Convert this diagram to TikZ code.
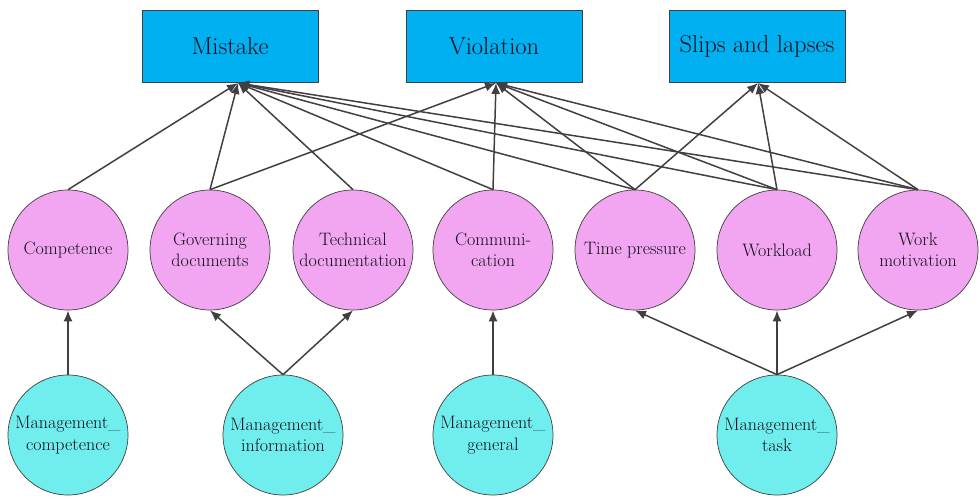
\documentclass[tikz,border=0pt]{standalone}
\usepackage{fontspec}
\usetikzlibrary{arrows.meta}
\definecolor{boxblue}{HTML}{00B0F0}
\definecolor{factorpink}{HTML}{F2A6F2}
\definecolor{mgmtcyan}{HTML}{70EEEE}
\definecolor{edgegray}{HTML}{404040}
\definecolor{inktext}{HTML}{10101C}
\tikzset{
  outcome/.style={draw=edgegray, line width=1pt, fill=boxblue, minimum width=176pt,
    minimum height=72pt, inner sep=0pt, text=inktext, font=\fontsize{24.5}{28}\selectfont},
  factor/.style={circle, draw=edgegray, line width=0.7pt, fill=factorpink, minimum size=120pt,
    inner sep=0pt, align=center, text=inktext, font=\fontsize{18}{21.5}\selectfont},
  mgmt/.style={factor, fill=mgmtcyan},
  link/.style={draw=edgegray, line width=1.5pt, -{Latex[length=11pt,width=9pt]}},
}
\begin{document}
\begin{tikzpicture}[x=1pt, y=-1pt]
\useasboundingbox (0,0) rectangle (980,499);
% outcomes
\node[outcome] (mis) at (230,46.5) {Mistake};
\node[outcome] (vio) at (494,46.5) {Violation};
\node[outcome] (sl) at (757,46.5) {Slips and lapses};
% contributing factors
\node[factor] (comp) at (68,250) {Competence};
\node[factor] (gov) at (210,250) {Governing\\documents};
\node[factor] (tech) at (353,250) {Technical\\documentation};
\node[factor] (comm) at (493,250) {Communi-\\cation};
\node[factor] (time) at (635,250) {Time pressure};
\node[factor] (work) at (777,250) {Workload};
\node[factor] (mot) at (918,250) {Work\\motivation};
% management nodes
\node[mgmt] (mcomp) at (68,435) {Management\_\\competence};
\node[mgmt] (minfo) at (283,435) {Management\_\\information};
\node[mgmt] (mgen) at (493,435) {Management\_\\general};
\node[mgmt] (mtask) at (777,435) {Management\_\\task};
% convergence points under the outcome boxes
\coordinate (misin) at (238,83);
\coordinate (vioin) at (496,83);
\coordinate (slin) at (758,83);
% factors -> outcomes
\draw[link] (comp.north) -- (misin);
\draw[link] (gov.north) -- (misin);
\draw[link] (gov.north) -- (vioin);
\draw[link] (tech.north) -- (misin);
\draw[link] (comm.north) -- (misin);
\draw[link] (comm.north) -- (vioin);
\draw[link] (time.north) -- (misin);
\draw[link] (time.north) -- (vioin);
\draw[link] (time.north) -- (slin);
\draw[link] (work.north) -- (misin);
\draw[link] (work.north) -- (vioin);
\draw[link] (work.north) -- (slin);
\draw[link] (mot.north) -- (misin);
\draw[link] (mot.north) -- (vioin);
\draw[link] (mot.north) -- (slin);
% management -> factors
\draw[link] (mcomp.north) -- (comp.south);
\draw[link] (minfo.north) -- (gov.south);
\draw[link] (minfo.north) -- (tech.south);
\draw[link] (mgen.north) -- (comm.south);
\draw[link] (mtask.north) -- (time.south);
\draw[link] (mtask.north) -- (work.south);
\draw[link] (mtask.north) -- (mot.south);
\end{tikzpicture}
\end{document}
